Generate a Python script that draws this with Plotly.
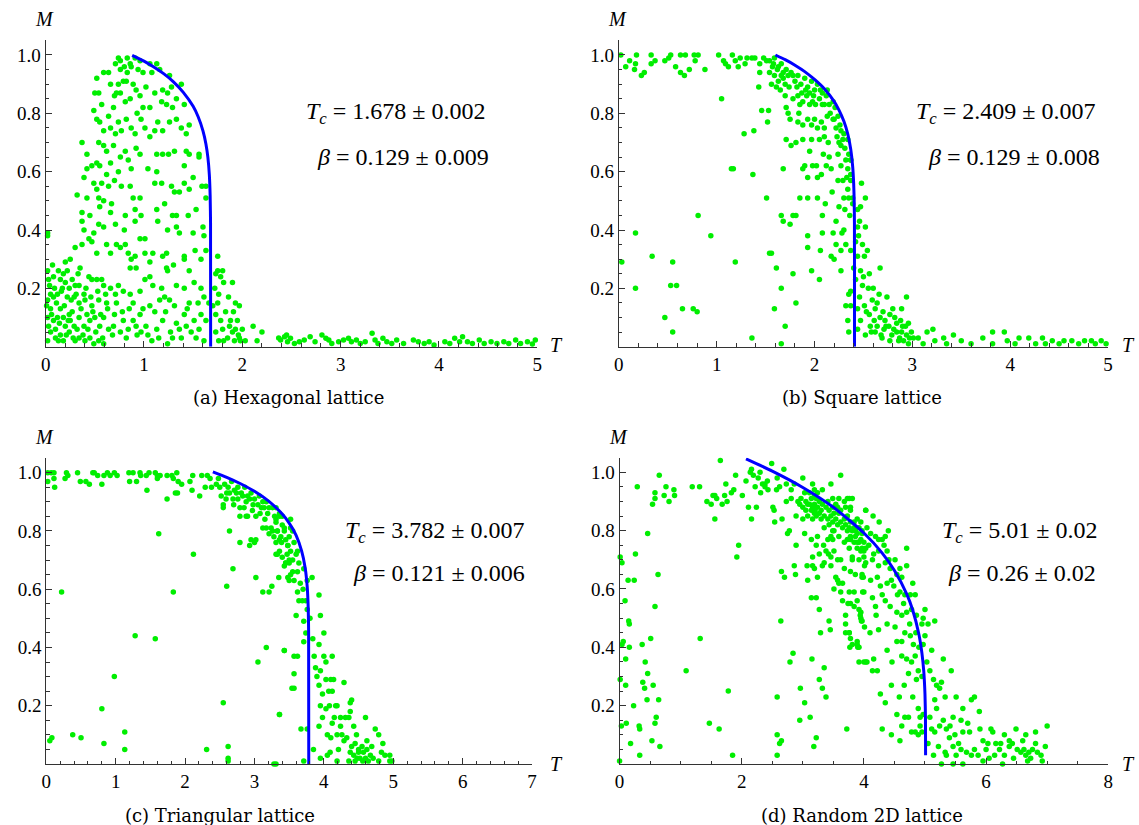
import plotly.graph_objects as go

# ---- data: (T, M) ----
hex_points = [
    (0.71, 0.97), (0.74, 0.99), (0.76, 0.98), (0.80, 0.96), (0.83, 0.99), (0.86, 0.97), (0.91, 0.99),
    (0.96, 0.98), (1.06, 0.97), (1.13, 0.97), (1.16, 0.95), (1.26, 0.93), (1.38, 0.90), (0.83, 0.94),
    (0.94, 0.95), (0.99, 0.94), (1.08, 0.94), (0.76, 0.95), (0.87, 0.96),
    (0.52, 0.92), (0.59, 0.94), (0.64, 0.94), (0.66, 0.90), (0.74, 0.90), (0.79, 0.91), (0.82, 0.91),
    (0.89, 0.90), (0.92, 0.88), (0.96, 0.86), (1.02, 0.89), (1.11, 0.87), (1.19, 0.88), (1.24, 0.87),
    (1.28, 0.89), (1.33, 0.85), (0.50, 0.87), (0.54, 0.87), (0.57, 0.83), (0.72, 0.87), (0.76, 0.87),
    (0.86, 0.85), (0.99, 0.82), (1.06, 0.82), (1.18, 0.84), (1.23, 0.83), (1.29, 0.82), (1.41, 0.83),
    (0.69, 0.82), (0.81, 0.84),
    (0.49, 0.81), (0.52, 0.78), (0.55, 0.77), (0.66, 0.75), (0.74, 0.77), (0.77, 0.74), (0.82, 0.78),
    (0.87, 0.75), (0.97, 0.78), (1.01, 0.75), (1.06, 0.72), (1.14, 0.77), (1.19, 0.74), (1.26, 0.77),
    (1.33, 0.78), (1.38, 0.75), (1.43, 0.73), (1.46, 0.76), (0.71, 0.73), (0.59, 0.74), (0.91, 0.73),
    (1.11, 0.74),
    (0.37, 0.70), (0.42, 0.66), (0.54, 0.70), (0.59, 0.69), (0.62, 0.67), (0.69, 0.69), (0.76, 0.65),
    (0.81, 0.67), (0.84, 0.64), (0.92, 0.68), (0.96, 0.66), (1.13, 0.66), (1.19, 0.66), (1.31, 0.67),
    (1.43, 0.67), (1.46, 0.66), (1.56, 0.66), (0.42, 0.61), (0.47, 0.62), (0.52, 0.63), (0.55, 0.62),
    (0.66, 0.63), (0.74, 0.60), (0.87, 0.61), (1.13, 0.60), (1.41, 0.62), (1.56, 0.65),
    (0.39, 0.58), (0.49, 0.56), (0.52, 0.54), (0.62, 0.59), (0.64, 0.55), (0.77, 0.55), (0.86, 0.55),
    (0.96, 0.51), (1.11, 0.56), (1.21, 0.49), (1.28, 0.55), (1.31, 0.53), (1.36, 0.53), (1.41, 0.56),
    (1.46, 0.54), (1.63, 0.55), (1.63, 0.51), (0.32, 0.52), (0.42, 0.51), (0.54, 0.51), (0.59, 0.50),
    (0.67, 0.49), (0.89, 0.51),
    (0.37, 0.46), (0.55, 0.48), (0.66, 0.46), (0.81, 0.45), (0.91, 0.47), (1.13, 0.47), (1.14, 0.43),
    (1.29, 0.45), (1.33, 0.45), (1.45, 0.45), (0.37, 0.43), (0.54, 0.42), (0.59, 0.41), (0.71, 0.42),
    (0.91, 0.43), (1.33, 0.41), (0.02, 0.39), (0.39, 0.40), (0.49, 0.39), (1.36, 0.39), (1.50, 0.39),
    (1.60, 0.41), (1.61, 0.38), (0.02, 0.38),
    (0.30, 0.34), (0.37, 0.35), (0.44, 0.37), (0.47, 0.36), (0.52, 0.32), (0.62, 0.35), (0.66, 0.32),
    (0.72, 0.35), (0.76, 0.34), (0.81, 0.35), (0.84, 0.32), (0.87, 0.30), (0.91, 0.31), (0.96, 0.37),
    (1.01, 0.37), (1.01, 0.32), (1.09, 0.32), (1.19, 0.31), (1.23, 0.32), (1.41, 0.31), (1.41, 0.30),
    (1.58, 0.30), (1.63, 0.33), (1.75, 0.31), (0.07, 0.28), (0.20, 0.29), (0.25, 0.30), (0.35, 0.27),
    (0.86, 0.27), (0.92, 0.27), (1.06, 0.29), (1.23, 0.27), (1.24, 0.26), (1.46, 0.26), (1.75, 0.26),
    (1.80, 0.26),
    (0.02, 0.26), (0.03, 0.23), (0.08, 0.24), (0.13, 0.26), (0.15, 0.23), (0.18, 0.25), (0.20, 0.22),
    (0.24, 0.20), (0.27, 0.23), (0.30, 0.21), (0.34, 0.21), (0.39, 0.18), (0.44, 0.24), (0.47, 0.23),
    (0.52, 0.23), (0.57, 0.23), (0.59, 0.21), (0.66, 0.20), (0.71, 0.18), (0.79, 0.19), (0.86, 0.18),
    (0.96, 0.19), (1.01, 0.23), (1.09, 0.21), (1.21, 0.17), (1.26, 0.16), (1.33, 0.21), (1.41, 0.20),
    (1.51, 0.22), (1.58, 0.20), (1.61, 0.17), (1.73, 0.25), (1.78, 0.24), (1.81, 0.22), (1.90, 0.22),
    (1.76, 0.18), (1.86, 0.17), (0.05, 0.18), (0.08, 0.17), (0.12, 0.18), (0.17, 0.20), (0.22, 0.17),
    (0.29, 0.17), (0.34, 0.15), (0.40, 0.16), (0.47, 0.14), (0.02, 0.16), (0.54, 0.16), (0.62, 0.15),
    (0.72, 0.15), (0.89, 0.15), (1.06, 0.14), (1.16, 0.16), (1.46, 0.15), (1.55, 0.15), (1.66, 0.15),
    (1.75, 0.15), (1.93, 0.15), (1.97, 0.14),
    (0.01, 0.14), (0.02, 0.10), (0.05, 0.13), (0.08, 0.09), (0.12, 0.10), (0.15, 0.13), (0.18, 0.10),
    (0.20, 0.07), (0.24, 0.11), (0.25, 0.09), (0.29, 0.07), (0.34, 0.10), (0.39, 0.07), (0.42, 0.11),
    (0.45, 0.09), (0.50, 0.10), (0.55, 0.07), (0.59, 0.10), (0.64, 0.06), (0.69, 0.07), (0.76, 0.05),
    (0.79, 0.09), (0.84, 0.06), (0.89, 0.09), (0.92, 0.07), (0.96, 0.11), (0.97, 0.05), (1.02, 0.07),
    (1.08, 0.02), (1.13, 0.06), (1.19, 0.09), (1.24, 0.01), (1.29, 0.03), (1.33, 0.08), (1.36, 0.06),
    (1.41, 0.11), (1.43, 0.07), (1.48, 0.05), (1.51, 0.09), (1.56, 0.06), (1.61, 0.02), (1.63, 0.09),
    (1.73, 0.11), (1.78, 0.09), (1.80, 0.06), (1.85, 0.03), (1.87, 0.07), (1.90, 0.05), (1.92, 0.02),
    (1.93, 0.06), (1.95, 0.09), (1.97, 0.03), (1.98, 0.02), (1.73, 0.05), (1.76, 0.02), (1.81, 0.02),
    (2.00, 0.06), (2.11, 0.07), (2.20, 0.05), (2.15, 0.02), (0.05, 0.05), (0.10, 0.03), (0.15, 0.04),
    (0.18, 0.02), (0.24, 0.05), (0.30, 0.02), (0.34, 0.03), (0.40, 0.02), (0.45, 0.03), (0.49, 0.01),
    (0.54, 0.02), (0.59, 0.01), (0.02, 0.02), (0.03, 0.07),
    (0.04, 0.21), (0.06, 0.11), (0.09, 0.20), (0.10, 0.06), (0.11, 0.15), (0.13, 0.02), (0.14, 0.08),
    (0.16, 0.19), (0.19, 0.14), (0.21, 0.04), (0.22, 0.26), (0.23, 0.09), (0.26, 0.16), (0.27, 0.12),
    (0.28, 0.03), (0.31, 0.18), (0.32, 0.06), (0.33, 0.25), (0.36, 0.13), (0.38, 0.04), (0.41, 0.20),
    (0.43, 0.06), (0.46, 0.17), (0.48, 0.12), (0.51, 0.05), (0.53, 0.19), (0.56, 0.11), (0.58, 0.03),
    (0.61, 0.18), (0.63, 0.13), (0.68, 0.04), (0.70, 0.11), (0.74, 0.21), (0.78, 0.12), (0.82, 0.03),
    (0.85, 0.13), (0.93, 0.04), (0.99, 0.13), (1.04, 0.04), (1.11, 0.12), (1.15, 0.03), (1.18, 0.20),
    (1.22, 0.12), (1.27, 0.05), (1.31, 0.14), (1.38, 0.03), (1.44, 0.13), (1.53, 0.03), (1.58, 0.11),
    (1.70, 0.14), (1.72, 0.20), (1.83, 0.12), (1.88, 0.09), (1.91, 0.12), (1.96, 0.04), (2.03, 0.02),
    (0.45, 0.45), (0.57, 0.56), (0.70, 0.57), (0.64, 0.79), (0.70, 0.86), (0.93, 0.80), (1.04, 0.61),
    (1.18, 0.56), (1.25, 0.66), (1.50, 0.58), (1.53, 0.47), (0.97, 0.45), (0.80, 0.40), (1.24, 0.40),
    (1.06, 0.24), (1.30, 0.28), (1.52, 0.33), (1.59, 0.55),
    (2.37, 0.03), (2.45, 0.04), (2.39, 0.023), (2.43, 0.034), (2.46, 0.017), (2.49, 0.029), (2.53, 0.011),
    (2.58, 0.017), (2.63, 0.023), (2.69, 0.034), (2.74, 0.017), (2.81, 0.040), (2.85, 0.029),
    (2.88, 0.023), (2.91, 0.011), (2.98, 0.017), (3.03, 0.023), (3.08, 0.029), (3.11, 0.017),
    (3.16, 0.023), (3.20, 0.011), (3.25, 0.017), (3.32, 0.046), (3.35, 0.023), (3.38, 0.011),
    (3.43, 0.029), (3.47, 0.017), (3.52, 0.011), (3.57, 0.023), (3.64, 0.011), (3.74, 0.023),
    (3.79, 0.017), (3.85, 0.011), (3.90, 0.017), (3.95, 0.006), (4.06, 0.017), (4.11, 0.011),
    (4.16, 0.029), (4.21, 0.017), (4.24, 0.034), (4.29, 0.017), (4.34, 0.011), (4.41, 0.023),
    (4.46, 0.011), (4.53, 0.017), (4.59, 0.011), (4.66, 0.017), (4.71, 0.011), (4.78, 0.023),
    (4.83, 0.011), (4.90, 0.017), (4.95, 0.009), (4.98, 0.023),
]
hex_fit_T = [0.88, 1.0, 1.1, 1.2, 1.3, 1.4, 1.5, 1.55, 1.6, 1.63, 1.65, 1.665, 1.673, 1.677, 1.678]
hex_fit_M = [0.999, 0.979, 0.959, 0.936, 0.908, 0.872, 0.824, 0.789, 0.740, 0.695, 0.649, 0.588,
             0.519, 0.422, 0.0]

square_points = [
    (0.02, 1.0), (0.07, 0.96), (0.11, 0.98), (0.16, 0.95), (0.18, 1.0), (0.17, 0.97), (0.23, 0.93),
    (0.26, 0.94), (0.33, 1.0), (0.33, 0.97), (0.37, 0.98), (0.47, 0.98), (0.51, 0.99), (0.53, 1.0),
    (0.58, 0.96), (0.63, 1.0), (0.63, 0.94), (0.67, 0.93), (0.68, 1.0), (0.72, 0.95), (0.77, 1.0),
    (0.78, 0.98), (0.81, 1.0), (0.88, 0.95), (1.02, 1.0), (1.07, 0.98), (1.09, 0.97), (1.12, 0.96),
    (1.16, 1.0), (1.19, 0.98), (1.22, 0.96), (1.24, 0.99), (1.29, 0.97), (1.31, 0.99), (1.36, 0.99),
    (1.39, 0.99), (1.44, 0.97), (1.44, 0.94), (1.43, 0.89), (1.46, 0.81), (1.53, 0.81), (1.52, 0.77),
    (1.51, 0.51), (1.17, 0.61), (1.37, 0.59), (1.28, 0.73), (1.38, 0.74), (1.05, 0.85),
    (1.48, 0.99), (1.51, 0.98), (1.54, 0.98), (1.58, 0.97), (1.59, 0.99), (1.63, 0.96), (1.66, 0.97),
    (1.68, 0.94), (1.71, 0.95), (1.54, 0.94), (1.59, 0.93), (1.63, 0.91), (1.56, 0.90), (1.61, 0.89),
    (1.68, 0.92), (1.73, 0.93), (1.76, 0.94), (1.80, 0.91), (1.83, 0.93), (1.86, 0.90), (1.90, 0.92),
    (1.93, 0.89), (1.97, 0.91), (2.00, 0.88), (2.03, 0.90), (2.08, 0.87), (2.12, 0.86), (2.13, 0.88),
    (1.70, 0.86), (1.71, 0.82), (1.73, 0.80), (1.78, 0.85), (1.83, 0.86), (1.85, 0.83), (1.88, 0.84),
    (1.92, 0.86), (1.95, 0.83), (1.98, 0.84), (2.01, 0.83), (2.05, 0.85), (2.08, 0.83), (2.15, 0.83),
    (2.19, 0.84), (2.21, 0.82), (1.83, 0.77), (1.88, 0.76), (1.93, 0.78), (1.97, 0.76), (2.00, 0.78),
    (2.03, 0.75), (2.07, 0.77), (2.10, 0.75), (2.13, 0.79), (2.19, 0.78), (2.22, 0.75), (2.24, 0.79),
    (2.27, 0.74), (2.29, 0.71), (2.30, 0.73), (2.25, 0.70), (2.27, 0.69), (2.34, 0.71), (2.35, 0.66),
    (2.37, 0.64), (2.32, 0.64), (2.24, 0.66), (2.15, 0.65), (2.12, 0.62), (2.17, 0.61), (2.27, 0.62),
    (2.34, 0.61), (2.37, 0.59), (1.98, 0.62), (2.02, 0.62), (2.03, 0.58), (2.07, 0.59), (1.93, 0.58),
    (1.90, 0.62), (1.88, 0.61), (1.76, 0.69), (1.81, 0.70), (1.97, 0.71), (2.05, 0.71), (2.10, 0.72),
    (1.68, 0.61), (1.71, 0.71), (1.81, 0.45), (1.85, 0.51), (1.93, 0.51), (2.03, 0.51), (2.11, 0.49),
    (2.24, 0.57), (2.29, 0.57), (2.34, 0.54), (2.30, 0.51), (2.39, 0.51), (2.08, 0.45), (1.66, 0.45),
    (1.68, 0.43), (1.75, 0.42), (1.78, 0.45), (1.93, 0.38), (2.08, 0.39), (2.19, 0.39), (2.22, 0.43),
    (2.30, 0.40), (2.32, 0.35), (2.22, 0.35), (1.93, 0.34), (2.06, 0.33), (2.17, 0.31), (2.20, 0.30),
    (2.27, 0.33), (2.37, 0.33), (1.54, 0.32), (1.56, 0.32), (1.61, 0.27), (1.97, 0.26), (2.27, 0.26),
    (2.05, 0.23), (1.78, 0.25), (1.81, 0.15), (1.66, 0.20), (1.59, 0.13), (1.70, 0.07), (2.32, 0.14),
    (2.34, 0.09), (2.35, 0.05), (2.37, 0.19), (1.66, 0.01), (1.36, 0.03),
    (1.62, 0.95), (1.66, 0.93), (1.70, 0.90), (1.74, 0.89), (1.78, 0.93), (1.82, 0.89), (1.87, 0.87),
    (1.91, 0.88), (1.95, 0.87), (1.99, 0.86), (2.06, 0.88), (2.10, 0.83), (2.16, 0.80), (2.20, 0.78),
    (2.23, 0.72), (2.26, 0.76), (2.31, 0.68), (2.33, 0.58), (2.36, 0.45), (2.31, 0.47), (2.28, 0.39),
    (2.25, 0.48), (2.18, 0.53), (2.14, 0.70), (2.09, 0.66), (1.95, 0.67), (1.88, 0.71), (1.84, 0.80),
    (1.75, 0.78), (1.65, 0.88), (1.57, 0.96),
    (0.03, 0.29), (0.17, 0.39), (0.17, 0.20), (0.34, 0.31), (0.55, 0.29), (0.53, 0.21), (0.59, 0.21),
    (0.47, 0.10), (0.55, 0.05), (0.65, 0.13), (0.76, 0.13), (0.80, 0.12), (0.81, 0.45), (0.94, 0.38),
    (1.19, 0.29), (1.15, 0.61),
    (2.37, 0.64), (2.37, 0.57), (2.35, 0.51), (2.39, 0.49), (2.44, 0.47), (2.47, 0.48), (2.52, 0.51),
    (2.46, 0.43), (2.44, 0.41), (2.52, 0.41), (2.45, 0.38), (2.49, 0.35), (2.54, 0.33), (2.44, 0.31),
    (2.51, 0.31), (2.47, 0.26), (2.67, 0.27), (2.49, 0.21), (2.55, 0.20), (2.59, 0.16), (2.66, 0.18),
    (2.74, 0.17), (2.94, 0.17), (2.35, 0.18), (2.37, 0.14), (2.44, 0.13), (2.51, 0.14), (2.56, 0.11),
    (2.62, 0.13), (2.67, 0.10), (2.72, 0.09), (2.77, 0.11), (2.82, 0.10), (2.89, 0.13), (2.88, 0.09),
    (2.93, 0.07), (2.96, 0.08), (2.47, 0.09), (2.57, 0.07), (2.64, 0.07), (2.71, 0.06), (2.76, 0.07),
    (2.81, 0.06), (2.84, 0.05), (2.89, 0.05), (2.94, 0.04), (2.97, 0.03), (2.44, 0.06), (2.52, 0.04),
    (2.62, 0.05), (2.69, 0.03), (2.77, 0.02), (2.86, 0.02), (2.91, 0.02), (2.96, 0.01), (3.01, 0.03),
    (2.42, 0.23), (2.46, 0.17), (2.50, 0.24), (2.53, 0.12), (2.58, 0.05), (2.61, 0.09), (2.64, 0.15),
    (2.68, 0.04), (2.70, 0.12), (2.73, 0.07), (2.79, 0.04), (2.80, 0.13), (2.84, 0.08), (2.87, 0.03),
    (2.90, 0.07), (2.99, 0.05), (2.42, 0.36), (2.48, 0.56), (2.40, 0.27), (2.56, 0.25), (2.60, 0.20),
    (3.06, 0.03), (3.15, 0.05), (3.21, 0.06), (3.32, 0.03), (3.42, 0.04), (3.50, 0.02), (3.60, 0.01),
    (3.72, 0.03), (3.82, 0.05), (3.94, 0.05), (3.97, 0.02), (4.05, 0.01), (4.19, 0.03), (4.33, 0.03),
    (4.43, 0.02), (4.55, 0.02), (4.70, 0.01), (4.83, 0.02), (4.93, 0.02), (4.98, 0.01), (3.11, 0.01),
    (3.23, 0.02), (3.35, 0.01), (3.82, 0.01), (4.26, 0.01), (4.50, 0.01), (4.63, 0.02), (4.76, 0.02),
    (4.87, 0.01), (4.09, 0.03), (4.36, 0.01),
]
square_fit_T = [1.6, 1.7, 1.8, 1.9, 2.0, 2.1, 2.2, 2.25, 2.3, 2.34, 2.37, 2.39, 2.40, 2.405, 2.408, 2.409]
square_fit_M = [1.000, 0.984, 0.965, 0.943, 0.916, 0.884, 0.841, 0.811, 0.773, 0.729, 0.677, 0.617,
                0.560, 0.505, 0.422, 0.0]

tri_points = [
    (0.02, 1.0), (0.02, 0.97), (0.07, 1.0), (0.11, 1.0), (0.12, 0.95), (0.11, 0.98), (0.29, 1.0),
    (0.31, 0.99), (0.27, 0.98), (0.45, 1.0), (0.49, 0.97), (0.57, 0.97), (0.62, 0.96), (0.67, 1.0),
    (0.69, 1.0), (0.74, 0.99), (0.80, 0.96), (0.83, 0.99), (0.88, 1.0), (0.92, 0.99), (0.98, 1.0),
    (1.02, 0.99), (1.19, 1.0), (1.20, 0.97), (1.25, 1.0), (1.30, 0.97), (1.35, 1.0), (1.36, 0.99),
    (1.45, 0.94), (1.44, 0.99), (1.48, 1.0), (1.57, 1.0), (1.60, 0.99), (1.60, 0.98), (1.64, 0.99),
    (1.74, 0.99), (1.74, 0.91), (1.81, 0.99), (1.83, 0.98), (1.88, 1.0), (1.89, 0.93), (1.90, 0.97),
    (1.95, 0.96), (2.07, 0.97), (2.10, 0.94), (2.11, 0.99), (2.21, 0.92), (2.24, 0.99), (2.29, 0.95),
    (2.32, 0.99), (2.36, 0.98), (2.38, 0.95),
    (2.45, 0.96), (2.48, 0.98), (2.50, 0.95), (2.52, 0.92), (2.55, 0.89), (2.55, 0.88), (2.57, 0.96),
    (2.59, 0.91), (2.60, 0.93), (2.62, 0.95), (2.64, 0.93), (2.67, 0.97), (2.69, 0.91), (2.71, 0.94),
    (2.74, 0.93), (2.76, 0.95), (2.76, 0.91), (2.79, 0.88), (2.79, 0.85), (2.81, 0.93), (2.83, 0.92),
    (2.86, 0.95), (2.88, 0.90), (2.90, 0.92), (2.90, 0.85), (2.93, 0.91), (2.95, 0.93), (2.98, 0.89),
    (3.00, 0.91), (3.02, 0.85), (3.05, 0.89), (3.07, 0.92), (3.10, 0.88), (3.12, 0.90), (3.14, 0.88),
    (3.17, 0.90), (3.19, 0.86), (3.21, 0.88), (3.24, 0.81), (3.26, 0.88), (3.29, 0.85), (3.31, 0.83),
    (3.33, 0.80), (3.36, 0.85), (3.38, 0.78), (3.40, 0.82), (3.43, 0.80), (3.45, 0.77), (3.48, 0.75),
    (3.50, 0.78), (3.52, 0.73), (3.52, 0.81), (3.12, 0.81), (3.17, 0.81), (3.21, 0.79), (3.26, 0.80),
    (3.31, 0.76), (3.36, 0.73), (3.40, 0.71), (3.45, 0.69), (3.43, 0.68), (3.50, 0.69), (3.48, 0.64),
    (3.52, 0.65), (3.31, 0.72), (3.35, 0.64), (3.25, 0.61), (3.21, 0.59), (3.12, 0.59), (3.02, 0.64),
    (3.02, 0.77), (3.00, 0.76), (2.95, 0.77), (2.93, 0.75), (2.88, 0.85), (2.79, 0.76), (2.69, 0.67),
    (2.64, 0.80), (2.60, 0.61), (3.17, 0.40), (3.05, 0.35), (3.43, 0.39), (3.54, 0.26), (3.36, 0.17),
    (2.55, 0.21), (2.62, 0.06), (2.62, 0.02), (2.62, 0.01), (2.31, 0.05), (3.31, 0.0),
    (1.62, 0.79), (2.12, 0.72), (1.83, 0.59), (1.57, 0.43), (1.28, 0.44), (0.22, 0.59), (0.98, 0.30),
    (0.80, 0.19), (0.83, 0.07), (1.13, 0.11), (1.13, 0.05), (0.38, 0.10), (0.50, 0.09), (0.05, 0.08),
    (0.08, 0.09), (1.86, 0.93),
    (3.31, 0.88), (3.36, 0.86), (3.31, 0.84), (3.40, 0.85), (3.33, 0.80), (3.43, 0.81), (3.52, 0.84),
    (3.55, 0.80), (3.36, 0.77), (3.48, 0.75), (3.57, 0.76), (3.62, 0.73), (3.50, 0.70), (3.60, 0.72),
    (3.33, 0.72), (3.45, 0.69), (3.64, 0.69), (3.71, 0.67), (3.55, 0.66), (3.62, 0.66), (3.50, 0.63),
    (3.57, 0.63), (3.76, 0.63), (3.83, 0.64), (3.62, 0.59), (3.69, 0.56), (3.74, 0.56), (3.64, 0.56),
    (3.93, 0.58), (3.76, 0.53), (3.95, 0.51), (3.60, 0.51), (3.71, 0.49), (3.74, 0.45), (4.00, 0.45),
    (3.71, 0.42), (3.43, 0.39), (3.57, 0.37), (3.62, 0.37), (3.93, 0.41), (3.86, 0.37), (4.00, 0.37),
    (4.12, 0.37), (4.03, 0.35), (3.88, 0.33), (3.95, 0.32), (3.57, 0.31), (4.03, 0.29), (4.10, 0.29),
    (4.14, 0.29), (4.29, 0.28), (3.57, 0.26), (3.93, 0.27), (4.07, 0.25), (4.12, 0.25), (3.36, 0.17),
    (3.95, 0.20), (4.03, 0.19), (4.17, 0.20), (4.19, 0.20), (4.24, 0.16), (4.38, 0.21), (4.40, 0.22),
    (4.38, 0.18), (3.98, 0.16), (4.12, 0.14), (4.24, 0.13), (4.31, 0.16), (4.36, 0.16), (4.43, 0.13),
    (4.60, 0.16), (3.67, 0.12), (3.76, 0.12), (3.93, 0.13), (4.05, 0.10), (4.10, 0.09), (4.19, 0.10),
    (4.26, 0.10), (4.29, 0.08), (4.40, 0.06), (4.45, 0.07), (4.50, 0.05), (4.55, 0.06), (4.57, 0.04),
    (4.62, 0.05), (4.69, 0.06), (4.74, 0.12), (4.79, 0.10), (4.83, 0.04), (4.88, 0.03), (4.95, 0.03),
    (4.98, 0.01), (4.95, 0.01), (4.38, 0.04), (4.43, 0.03), (4.48, 0.02), (4.52, 0.02), (4.60, 0.02),
    (4.64, 0.01), (4.71, 0.02), (4.79, 0.01), (4.36, 0.01), (4.45, 0.01), (4.50, 0.04), (4.19, 0.01),
    (4.05, 0.03), (3.95, 0.02), (4.21, 0.05), (3.71, 0.01), (3.28, 0.0),
    (2.70, 0.89), (2.85, 0.88), (2.97, 0.87), (3.08, 0.86), (3.15, 0.84), (3.28, 0.78), (3.39, 0.76),
    (3.47, 0.72), (3.55, 0.70), (3.66, 0.62), (3.70, 0.60), (3.80, 0.50), (3.84, 0.43), (3.90, 0.30),
    (3.98, 0.24), (4.08, 0.20), (4.15, 0.16), (4.33, 0.09), (4.47, 0.10), (4.62, 0.08), (4.85, 0.07),
    (4.56, 0.01), (4.67, 0.03), (4.09, 0.04), (3.85, 0.05),
]
tri_fit_T = [2.4, 2.6, 2.8, 3.0, 3.2, 3.4, 3.5, 3.6, 3.68, 3.73, 3.76, 3.775, 3.780, 3.782]
tri_fit_M = [1.003, 0.984, 0.962, 0.936, 0.903, 0.858, 0.827, 0.785, 0.731, 0.674, 0.608, 0.529,
             0.455, 0.0]

rand_points = [
    (0.01, 0.71), (0.04, 0.69), (0.01, 0.29), (0.03, 0.13), (0.0, 0.01), (0.04, 0.41), (0.06, 0.42),
    (0.09, 0.56), (0.10, 0.36), (0.10, 0.27), (0.11, 0.14), (0.14, 0.63), (0.15, 0.49), (0.16, 0.48),
    (0.16, 0.40), (0.18, 0.07), (0.24, 0.63), (0.23, 0.20), (0.26, 0.72), (0.29, 0.95), (0.32, 0.13),
    (0.33, 0.12), (0.33, 0.03), (0.37, 0.41), (0.38, 0.28), (0.42, 0.35), (0.41, 0.26), (0.45, 0.22),
    (0.46, 0.31), (0.46, 0.79), (0.51, 0.43), (0.53, 0.08), (0.54, 0.89), (0.55, 0.27), (0.58, 0.91),
    (0.58, 0.93), (0.58, 0.14), (0.58, 0.54), (0.60, 0.16), (0.63, 0.65), (0.64, 0.22), (0.65, 0.99),
    (0.66, 0.06), (0.73, 0.92), (0.76, 0.95), (0.81, 0.90), (0.89, 0.94), (0.90, 0.92),
    (1.09, 0.32), (1.19, 0.95), (1.31, 0.95), (1.32, 0.43), (1.43, 0.90), (1.47, 0.14), (1.50, 0.89),
    (1.53, 0.92), (1.56, 0.92), (1.56, 0.84), (1.59, 0.91), (1.63, 0.12), (1.65, 1.04), (1.68, 0.89),
    (1.72, 0.92), (1.74, 0.96), (1.76, 0.90), (1.78, 0.25), (1.83, 0.93), (1.85, 0.03), (1.87, 0.94),
    (1.90, 0.99), (1.92, 0.71), (1.95, 0.75), (2.01, 0.92), (2.07, 0.97), (2.11, 0.88), (2.14, 1.0),
    (2.16, 0.84), (2.16, 1.01), (2.19, 0.99), (2.22, 0.95), (2.24, 0.88), (2.27, 0.98), (2.30, 1.0),
    (2.31, 0.93), (2.34, 0.96), (2.38, 0.95), (2.38, 0.96), (2.42, 0.97), (2.43, 0.94), (2.49, 1.03),
    (2.51, 0.88), (2.53, 0.87), (2.54, 0.83), (2.57, 0.94), (2.58, 0.98), (2.58, 0.23), (2.58, 0.10),
    (2.58, 0.03), (2.62, 0.07), (2.62, 0.95), (2.64, 0.49), (2.65, 0.66), (2.65, 0.08), (2.66, 0.84),
    (2.69, 1.01), (2.70, 0.64), (2.73, 0.96), (2.73, 0.90), (2.75, 0.79), (2.78, 0.80), (2.79, 0.35),
    (2.81, 0.94), (2.81, 0.91), (2.84, 0.38), (2.86, 0.96), (2.86, 0.68), (2.88, 0.65), (2.89, 0.85),
    (2.89, 0.75), (2.95, 0.15), (2.96, 0.26), (2.97, 0.91), (3.0, 0.98), (3.0, 0.84), (3.03, 0.79),
    (3.03, 0.21), (3.05, 0.90), (3.07, 0.68), (3.08, 0.89), (3.11, 0.93), (3.12, 0.16), (3.14, 0.57),
    (3.14, 0.77), (3.15, 0.36), (3.16, 0.71), (3.18, 0.06), (3.19, 0.92), (3.19, 0.86), (3.20, 0.87),
    (3.22, 0.09), (3.22, 0.75), (3.24, 0.93), (3.24, 0.78), (3.27, 0.72), (3.27, 0.53), (3.27, 0.29),
    (3.29, 0.45), (3.32, 0.26), (3.34, 0.75), (3.35, 0.33), (3.38, 0.23), (3.42, 0.72), (3.43, 0.49),
    (3.45, 0.46), (3.46, 0.96), (3.46, 0.68), (3.49, 0.80), (3.49, 0.77), (3.51, 0.73), (3.54, 0.64),
    (3.57, 0.70), (3.57, 0.63), (3.59, 0.91), (3.59, 0.62), (3.62, 0.99), (3.62, 0.70), (3.65, 0.62),
    (3.65, 0.56), (3.68, 0.67), (3.70, 0.51), (3.70, 0.48), (3.70, 0.45), (3.72, 0.12), (3.73, 0.77),
    (3.74, 0.55), (3.76, 0.45), (3.77, 0.40), (3.78, 0.43), (3.81, 0.41), (3.81, 0.70), (3.84, 0.59),
    (3.86, 0.65), (3.89, 0.41), (3.90, 0.40), (3.92, 0.35), (3.94, 0.51), (3.95, 0.50), (3.96, 0.49),
    (3.97, 0.64), (3.98, 0.59), (4.0, 0.35), (4.01, 0.47), (4.03, 0.87),
    (2.92, 0.90), (2.95, 0.89), (3.0, 0.88), (3.03, 0.93), (3.05, 0.87), (3.08, 0.85), (3.11, 0.89),
    (3.14, 0.87), (3.14, 0.91), (3.16, 0.88), (3.16, 0.84), (3.19, 0.89), (3.22, 0.91), (3.22, 0.85),
    (3.24, 0.88), (3.27, 0.86), (3.27, 0.90), (3.30, 0.87), (3.30, 0.84), (3.32, 0.89), (3.35, 0.85),
    (3.35, 0.81), (3.38, 0.88), (3.41, 0.84), (3.41, 0.90), (3.43, 0.87), (3.43, 0.82), (3.46, 0.85),
    (3.49, 0.83), (3.49, 0.88), (3.51, 0.86), (3.51, 0.80), (3.54, 0.84), (3.54, 0.89), (3.57, 0.82),
    (3.59, 0.86), (3.59, 0.78), (3.62, 0.83), (3.62, 0.87), (3.65, 0.81), (3.68, 0.84), (3.68, 0.76),
    (3.70, 0.82), (3.70, 0.88), (3.73, 0.80), (3.73, 0.85), (3.76, 0.81), (3.76, 0.74), (3.78, 0.83),
    (3.78, 0.78), (3.81, 0.80), (3.84, 0.81), (3.84, 0.76), (3.86, 0.78), (3.89, 0.79), (3.89, 0.74),
    (3.92, 0.81), (3.92, 0.76), (3.95, 0.77), (3.95, 0.73), (3.97, 0.79), (3.97, 0.74), (4.0, 0.76),
    (4.0, 0.71), (4.01, 0.68), (4.03, 0.74), (4.03, 0.35), (4.0, 0.59), (3.99, 0.64), (3.16, 0.96),
    (3.19, 0.94), (3.32, 0.94), (3.49, 0.91), (3.57, 0.88), (3.68, 0.90), (3.73, 0.91), (3.78, 0.88),
    (3.46, 0.78), (3.41, 0.77), (3.38, 0.73), (3.46, 0.71), (3.35, 0.69), (3.16, 0.68), (3.19, 0.67),
    (3.24, 0.64), (3.32, 0.68), (3.51, 0.60), (3.62, 0.59), (3.08, 0.63), (3.22, 0.57), (3.84, 0.54),
    (3.92, 0.53),
    (3.76, 0.91), (3.81, 0.91), (3.78, 0.87), (3.84, 0.83), (3.89, 0.84), (3.95, 0.83), (4.03, 0.87),
    (3.86, 0.80), (3.97, 0.80), (4.05, 0.81), (4.11, 0.79), (4.19, 0.78), (4.24, 0.77), (4.30, 0.77),
    (4.33, 0.75), (3.78, 0.77), (3.89, 0.76), (4.0, 0.73), (4.08, 0.75), (4.16, 0.72), (4.24, 0.73),
    (4.38, 0.73), (4.41, 0.70), (4.51, 0.70), (4.70, 0.74), (3.81, 0.71), (3.92, 0.70), (4.03, 0.69),
    (4.14, 0.70), (4.24, 0.68), (4.35, 0.69), (4.43, 0.67), (4.54, 0.65), (4.62, 0.64), (4.70, 0.68),
    (4.59, 0.67), (3.78, 0.66), (3.97, 0.65), (4.11, 0.63), (4.22, 0.64), (4.27, 0.61), (4.38, 0.62),
    (4.49, 0.61), (4.59, 0.59), (4.67, 0.58), (4.76, 0.58), (4.84, 0.58), (3.76, 0.59), (3.78, 0.55),
    (3.89, 0.56), (4.14, 0.57), (4.19, 0.54), (4.35, 0.56), (4.43, 0.54), (4.54, 0.52), (4.62, 0.51),
    (4.70, 0.52), (4.78, 0.53), (4.86, 0.51), (4.95, 0.48), (5.0, 0.53), (5.05, 0.48), (5.16, 0.49),
    (4.97, 0.50), (3.95, 0.52), (3.97, 0.49), (4.24, 0.46), (4.38, 0.48), (4.51, 0.47), (4.54, 0.42),
    (4.62, 0.42), (4.67, 0.45), (4.76, 0.44), (4.81, 0.41), (4.84, 0.37), (4.97, 0.41), (5.11, 0.39),
    (5.30, 0.36), (3.76, 0.45), (3.89, 0.42), (3.92, 0.40), (4.05, 0.35), (4.16, 0.36), (4.14, 0.32),
    (4.22, 0.32), (4.38, 0.39), (4.46, 0.35), (4.62, 0.37), (4.70, 0.36), (4.78, 0.35), (4.73, 0.31),
    (4.86, 0.29), (4.89, 0.32), (4.95, 0.30), (5.03, 0.35), (5.08, 0.32), (5.14, 0.29), (5.19, 0.27),
    (5.24, 0.26), (5.27, 0.28), (5.43, 0.32), (5.33, 0.23), (5.16, 0.22), (5.51, 0.23), (5.62, 0.19),
    (5.76, 0.22), (5.81, 0.23), (5.89, 0.18), (4.27, 0.24), (4.30, 0.12), (4.54, 0.17), (4.59, 0.08),
    (4.67, 0.16), (4.73, 0.16), (4.78, 0.11), (4.84, 0.11), (4.89, 0.19), (4.92, 0.16), (4.92, 0.13),
    (4.95, 0.11), (4.97, 0.17), (5.08, 0.16), (5.11, 0.12), (5.16, 0.11), (5.19, 0.19), (5.24, 0.13),
    (5.30, 0.15), (5.35, 0.12), (5.41, 0.13), (5.46, 0.16), (5.49, 0.10), (5.59, 0.15), (5.62, 0.11),
    (5.73, 0.11), (5.95, 0.08), (6.08, 0.12), (6.11, 0.11), (6.16, 0.07), (6.24, 0.07), (6.38, 0.08),
    (6.49, 0.12), (6.65, 0.10), (6.81, 0.11), (7.0, 0.13), (4.89, 0.10), (5.14, 0.03), (5.27, 0.0),
    (5.33, 0.04), (5.35, 0.03), (5.46, 0.06), (5.51, 0.03), (5.59, 0.05), (5.68, 0.04), (5.76, 0.03),
    (5.81, 0.05), (5.87, 0.03), (5.95, 0.01), (6.0, 0.05), (6.03, 0.07), (6.14, 0.03), (6.22, 0.05),
    (6.30, 0.03), (6.38, 0.06), (6.43, 0.07), (6.51, 0.05), (6.57, 0.04), (6.62, 0.05), (6.65, 0.03),
    (6.68, 0.01), (6.70, 0.04), (6.73, 0.02), (6.76, 0.05), (6.81, 0.07), (6.84, 0.04), (6.92, 0.01),
    (6.97, 0.06), (5.62, 0.0), (6.27, 0.0), (5.46, 0.0),
    (4.35, 0.21), (4.45, 0.27), (4.58, 0.23), (4.66, 0.27), (4.80, 0.23), (4.45, 0.10), (4.62, 0.13),
    (5.05, 0.07), (5.22, 0.06), (5.40, 0.09), (5.55, 0.07), (5.70, 0.14), (5.90, 0.12), (6.05, 0.02),
    (6.30, 0.10), (6.45, 0.02), (6.60, 0.08), (6.90, 0.03), (4.10, 0.45), (4.20, 0.51), (4.30, 0.58),
    (4.45, 0.63), (4.55, 0.58), (4.65, 0.55), (4.75, 0.48), (4.85, 0.45), (4.90, 0.40), (5.00, 0.44),
    (4.80, 0.62), (4.40, 0.80), (4.25, 0.83), (4.15, 0.85), (4.35, 0.78),
]
rand_fit_T = [2.07, 2.5, 3.0, 3.5, 4.0, 4.3, 4.5, 4.7, 4.8, 4.9, 4.95, 4.98, 5.0, 5.008, 5.0099]
rand_fit_M = [1.046, 1.004, 0.948, 0.880, 0.792, 0.723, 0.663, 0.583, 0.527, 0.445, 0.380, 0.318,
              0.239, 0.157, 0.03]

captions = ["(a) Hexagonal lattice", "(b) Square lattice", "(c) Triangular lattice", "(d) Random 2D lattice"]
tc_labels = ["1.678 ± 0.002", "2.409 ± 0.007", "3.782 ± 0.007", "5.01 ± 0.02"]
beta_labels = ["0.129 ± 0.009", "0.129 ± 0.008", "0.121 ± 0.006", "0.26 ± 0.02"]
t_max = [5, 5, 7, 8]

W, H = 1139, 825
GREEN = "#00ee00"
BLUE = "#0000ff"
AXIS = "#333333"
SERIF = "Liberation Serif, Times New Roman, Tinos, serif"

panels = [
    dict(pts=hex_points, fT=hex_fit_T, fM=hex_fit_M, x0=41, x1=537, y0=346.7, y1=40.4, minor=0.2,
         cap=(286, 397), tc=(487, 113), be=(490, 157), mlab=(40, 19), tlab=(556, 345)),
    dict(pts=square_points, fT=square_fit_T, fM=square_fit_M, x0=619.3, x1=1112.8, y0=346.7, y1=40.4,
         minor=0.2, cap=(865, 397), tc=(1103, 113), be=(1107, 157), mlab=(618, 19), tlab=(1133, 345)),
    dict(pts=tri_points, fT=tri_fit_T, fM=tri_fit_M, x0=41.7, x1=531.7, y0=764, y1=458.1, minor=0.2,
         cap=(217, 815), tc=(527, 532), be=(527, 573), mlab=(40, 437), tlab=(556, 764)),
    dict(pts=rand_points, fT=rand_fit_T, fM=rand_fit_M, x0=620, x1=1113, y0=764, y1=457.7, minor=0.5,
         cap=(865, 815), tc=(1105, 532), be=(1103, 573), mlab=(619, 437), tlab=(1133, 764)),
]

fig = go.Figure()
annotations = []


def add_text(pos, text, size, xanchor="center", family=SERIF):
    annotations.append(dict(x=pos[0] / W, y=1 - pos[1] / H, xref="paper", yref="paper",
                            text=text, showarrow=False, xanchor=xanchor, yanchor="middle",
                            font=dict(family=family, size=size, color="black")))


for i, p in enumerate(panels):
    n = "" if i == 0 else str(i + 1)
    xa, ya = "x" + n, "y" + n
    T = [q[0] for q in p["pts"]]
    M = [q[1] for q in p["pts"]]
    fig.add_trace(go.Scatter(x=T, y=M, mode="markers", xaxis=xa, yaxis=ya, cliponaxis=False,
                             marker=dict(size=5.5, color=GREEN, line=dict(width=0)), showlegend=False))
    fig.add_trace(go.Scatter(x=p["fT"], y=p["fM"], mode="lines", xaxis=xa, yaxis=ya, cliponaxis=False,
                             line=dict(color=BLUE, width=3, shape="spline", smoothing=0.6),
                             showlegend=False))

    major = 2 if t_max[i] == 8 else 1
    fig.layout["xaxis" + n] = dict(
        domain=[p["x0"] / W, p["x1"] / W], anchor=ya, range=[0, t_max[i]],
        tickmode="linear", tick0=0, dtick=major, ticks="inside", ticklen=6, tickcolor=AXIS,
        minor=dict(dtick=p["minor"], tick0=0, ticks="inside", ticklen=3.5, tickcolor=AXIS),
        showline=True, linecolor=AXIS, linewidth=1, showgrid=False, zeroline=False,
        tickfont=dict(family=SERIF, size=19, color="black"))
    fig.layout["yaxis" + n] = dict(
        domain=[1 - p["y0"] / H, 1 - p["y1"] / H], anchor=xa, range=[0, 1.05],
        tickvals=[0.2, 0.4, 0.6, 0.8, 1.0], ticktext=["0.2", "0.4", "0.6", "0.8", "1.0"],
        ticks="inside", ticklen=6, tickcolor=AXIS,
        minor=dict(dtick=0.05, tick0=0, ticks="inside", ticklen=3.5, tickcolor=AXIS),
        showline=True, linecolor=AXIS, linewidth=1, showgrid=False, zeroline=False,
        tickfont=dict(family=SERIF, size=19, color="black"))

    add_text(p["cap"], captions[i], 18, family="DejaVu Serif")
    add_text(p["tc"], "<i>T</i><sub><i>c</i></sub> = " + tc_labels[i], 24, xanchor="right")
    add_text(p["be"], "<i>β</i> = " + beta_labels[i], 24, xanchor="right")
    add_text(p["mlab"], "<i>M</i>", 20)
    add_text(p["tlab"], "<i>T</i>", 20)

fig.update_layout(width=W, height=H, margin=dict(l=0, r=0, t=0, b=0),
                  paper_bgcolor="white", plot_bgcolor="white", annotations=annotations)

fig.write_html("out.html", config={"displayModeBar": False},
               post_script="document.body.style.margin='0';document.body.style.overflow='hidden';")
